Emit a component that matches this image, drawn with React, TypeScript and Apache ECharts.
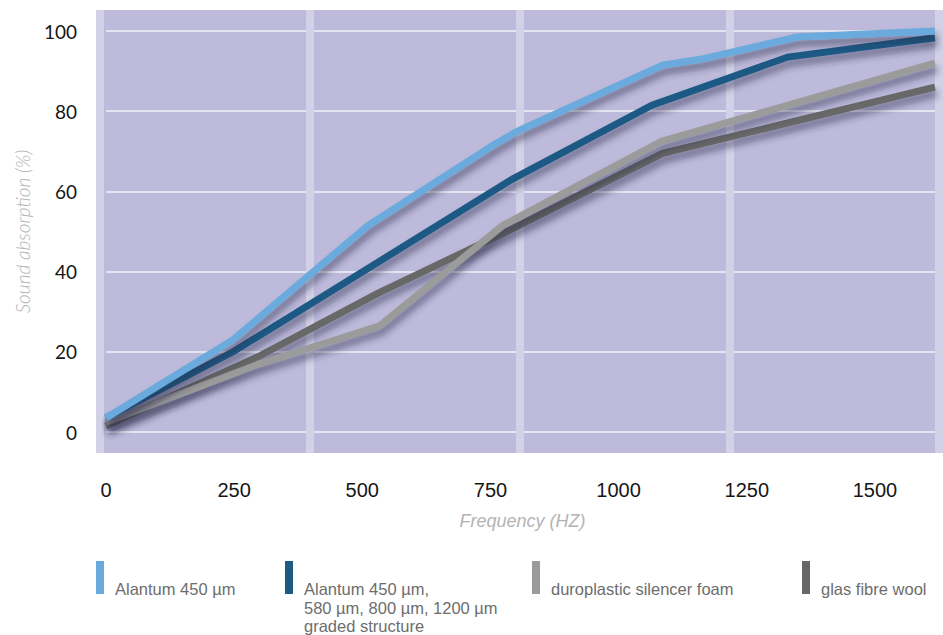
import React, { useEffect, useRef } from "react";
import * as echarts from "echarts";

// ---- data ----
const seriesNames = [
  "Alantum 450 µm",
  "Alantum 450 µm,\n580 µm, 800 µm, 1200 µm\ngraded structure",
  "duroplastic silencer foam",
  "glas fibre wool",
];
const seriesColors = ["#6aaadd", "#1d5a85", "#9b9b9b", "#676767"];

const freqAlantum = [0, 248, 511, 755, 802, 1086, 1162, 1348, 1617];
const absAlantum = [3.5, 23, 51.5, 71.5, 75, 91.5, 93, 98.5, 100];

const freqGraded = [0, 248, 792, 1065, 1330, 1617];
const absGraded = [3.5, 20, 63, 81.5, 93.5, 98.3];

const freqFoam = [0, 300, 534, 774, 1084, 1617];
const absFoam = [2.5, 17, 26.5, 51.5, 72.5, 92];

const freqWool = [0, 300, 529, 774, 1086, 1617];
const absWool = [1.5, 19, 34.5, 49.5, 69.5, 86];

const xMin = 0;
const xMax = 1625;
const xInterval = 250;
const yMin = 0;
const yMax = 100;
const yInterval = 20;
const columnCount = 4;

const xTitle = "Frequency (HZ)";
const yTitle = "Sound absorption (%)";

const zip = (xs: number[], ys: number[]) => xs.map((x, i) => [x, ys[i]]);

export default function App() {
  const ref = useRef<HTMLDivElement>(null);

  useEffect(() => {
    if (!ref.current) return;
    const chart = echarts.init(ref.current, undefined, { renderer: "svg" });

    const datasets = [
      zip(freqAlantum, absAlantum),
      zip(freqGraded, absGraded),
      zip(freqFoam, absFoam),
      zip(freqWool, absWool),
    ];
    const zOrder = [5, 4, 3, 2];

    const lineH = 18.5;
    const legendLefts = [96, 285, 532, 802];
    const legendGap = seriesNames.map((n) => {
      const lines = n.split("\n").length;
      // place first text line centre 28px below the icon top (icon height 33)
      return 2 * (28 - 16.5 + (lines * lineH) / 2 - lineH / 2);
    });
    const legendTops = seriesNames.map((n, i) => {
      const lines = n.split("\n").length;
      const blockH = legendGap[i] + lines * lineH;
      const blockTop = 16.5 - blockH / 2;
      return 561 + Math.min(0, blockTop);
    });

    const option: any = {
      animation: false,
      backgroundColor: "#ffffff",
      grid: [
        {
          left: 100,
          top: 10,
          width: 839,
          height: 443,
          show: true,
          backgroundColor: "#bdbadb",
          borderWidth: 0,
        },
        {
          left: 106,
          top: 31,
          width: 833,
          height: 401,
        },
      ],
      xAxis: [
        {
          gridIndex: 0,
          type: "value",
          min: 0,
          max: columnCount,
          interval: 1,
          z: 1,
          axisLine: { show: false },
          axisTick: { show: false },
          axisLabel: { show: false },
          splitLine: { show: true, lineStyle: { color: "#d3d1e7", width: 8 } },
        },
        {
          gridIndex: 1,
          type: "value",
          min: xMin,
          max: xMax,
          interval: xInterval,
          z: 0,
          axisLine: { show: false },
          axisTick: { show: false },
          splitLine: { show: false },
          axisLabel: {
            showMaxLabel: false,
            margin: 48,
            color: "#161616",
            fontSize: 20,
            fontFamily: "Liberation Sans",
            formatter: (v: number) => String(v),
          },
          name: xTitle,
          nameLocation: "middle",
          nameGap: 80,
          nameTextStyle: {
            color: "#b3b3b3",
            fontSize: 18,
            fontStyle: "italic",
            fontFamily: "Liberation Sans",
          },
        },
      ],
      yAxis: [
        {
          gridIndex: 0,
          type: "value",
          min: 0,
          max: 1,
          show: false,
        },
        {
          gridIndex: 1,
          type: "value",
          min: yMin,
          max: yMax,
          interval: yInterval,
          z: 0,
          axisLine: { show: false },
          axisTick: { show: false },
          splitLine: { show: true, lineStyle: { color: "#f3f2f8", width: 1.5 } },
          axisLabel: {
            margin: 29,
            color: "#161616",
            fontSize: 19,
            fontFamily: "Lato",
            formatter: (v: number) => String(v),
          },
          name: yTitle,
          nameLocation: "middle",
          nameGap: 74,
          nameTextStyle: {
            color: "#b3b3b3",
            fontSize: 19,
            fontStyle: "italic",
            fontWeight: 300,
            fontFamily: "Lato",
          },
        },
      ],
      legend: seriesNames.map((name, i) => ({
        data: [name],
        left: legendLefts[i],
        top: legendTops[i],
        padding: 0,
        icon: "rect",
        itemWidth: 8,
        itemHeight: 33,
        selectedMode: false,
        itemStyle: { shadowBlur: 0, shadowColor: "transparent", borderWidth: 0 },
        formatter: (n: string) =>
          "{gap| }\n" + n.split("\n").map((l) => "{t|" + l + "}").join("\n"),
        textStyle: {
          rich: {
            gap: { height: legendGap[i], lineHeight: legendGap[i], fontSize: 2 },
            t: {
              color: "#6d6d6d",
              fontSize: 16.5,
              lineHeight: lineH,
              fontFamily: "Liberation Sans",
              padding: [0, 0, 0, 6],
            },
          },
        },
      })),
      series: seriesNames.map((name, i) => ({
        name,
        type: "line",
        xAxisIndex: 1,
        yAxisIndex: 1,
        data: datasets[i],
        symbol: "none",
        clip: false,
        z: zOrder[i],
        color: seriesColors[i],
        lineStyle: {
          color: seriesColors[i],
          width: 7,
          join: "miter",
          cap: "butt",
          shadowColor: "rgba(40,40,70,0.55)",
          shadowBlur: 7,
          shadowOffsetX: 2,
          shadowOffsetY: 6,
        },
      })),
    };

    chart.setOption(option);
    return () => chart.dispose();
  }, []);

  return (
    <div
      ref={ref}
      style={{ position: "absolute", left: 0, top: 0, width: 943, height: 635 }}
    />
  );
}
